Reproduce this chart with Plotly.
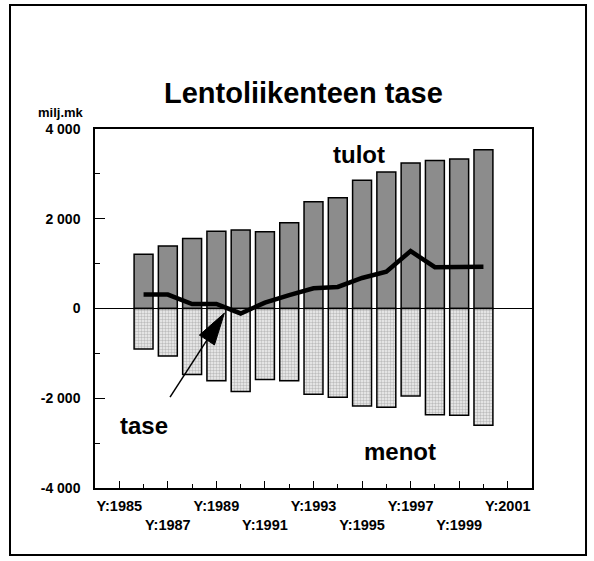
import plotly.graph_objects as go

# Air traffic balance, million FIM
years = [1986, 1987, 1988, 1989, 1990, 1991, 1992, 1993, 1994, 1995,
         1996, 1997, 1998, 1999, 2000]
tulot = [1210, 1390, 1560, 1720, 1750, 1710, 1910, 2380, 2470, 2860,
         3040, 3240, 3300, 3330, 3540]
menot = [-900, -1060, -1470, -1610, -1850, -1580, -1610, -1910, -1980, -2170,
         -2200, -1950, -2370, -2380, -2600]
tase = [310, 310, 100, 100, -110, 130, 300, 450, 480, 680,
        820, 1280, 920, 930, 930]

x_tick_years = [1985, 1987, 1989, 1991, 1993, 1995, 1997, 1999, 2001]
y_tick_vals = [-4000, -2000, 0, 2000, 4000]
y_tick_text = ["-4 000", "-2 000", "0", "2 000", "4 000"]

FONT = "Liberation Sans, Arial, sans-serif"

# alternate rows for the year labels
x_tick_text = [("Y:%d" % y) if i % 2 == 0 else ("<br>Y:%d" % y)
               for i, y in enumerate(x_tick_years)]

fig = go.Figure()
fig.add_trace(go.Bar(
    x=years, y=tulot, width=0.78, name="tulot",
    marker=dict(color="#8c8c8c", line=dict(color="black", width=1.5)),
))
fig.add_trace(go.Bar(
    x=years, y=menot, width=0.78, name="menot",
    marker=dict(color="#dcdcdc", line=dict(color="black", width=1.5),
                pattern=dict(shape=".", size=3, solidity=0.5,
                             fgcolor="#8a8a8a", bgcolor="#f0f0f0")),
))
fig.add_trace(go.Scatter(
    x=years, y=tase, mode="lines", name="tase",
    line=dict(color="black", width=4.5),
))

fig.update_layout(
    width=594, height=561,
    margin=dict(l=95, r=62, t=129, b=73),
    barmode="relative",
    showlegend=False,
    plot_bgcolor="white",
    paper_bgcolor="white",
    font=dict(family=FONT, color="black"),
)

fig.update_xaxes(
    range=[1984, 2002],
    tickmode="array", tickvals=x_tick_years, ticktext=x_tick_text,
    ticks="inside", ticklen=7, tickwidth=1, tickcolor="black",
    minor=dict(tickmode="linear", tick0=1984, dtick=1, ticks="inside",
               ticklen=4, tickwidth=1, tickcolor="black"),
    showline=True, linecolor="black", linewidth=1.5, mirror=True,
    showgrid=False, zeroline=False,
    tickfont=dict(family=FONT, size=14.5, weight="bold"),
    ticklabelstandoff=4,
)
fig.update_yaxes(
    range=[-4000, 4000],
    tickmode="array", tickvals=y_tick_vals, ticktext=y_tick_text,
    ticks="inside", ticklen=10, tickwidth=1, tickcolor="black",
    minor=dict(tickmode="linear", tick0=-4000, dtick=1000, ticks="inside",
               ticklen=5, tickwidth=1, tickcolor="black"),
    showline=True, linecolor="black", linewidth=1.5, mirror=True,
    showgrid=False, zeroline=True, zerolinecolor="black", zerolinewidth=1,
    tickfont=dict(family=FONT, size=14, weight="bold"),
    ticklabelstandoff=10,
)

# outer frame around the whole chart
fig.add_shape(type="rect", xref="paper", yref="paper",
              x0=-0.1945, x1=1.1236, y0=-0.1866, y1=1.3454,
              line=dict(color="black", width=2), fillcolor="rgba(0,0,0,0)",
              layer="above")

# arrow pointing to the balance line
tail = (1987.09, -1976)
tip = (1989.33, -103)
base_c = (1988.61, -703)
corner_a = (1988.92, -812)
corner_b = (1988.30, -593)
fig.add_shape(type="line", xref="x", yref="y",
              x0=tail[0], y0=tail[1], x1=base_c[0], y1=base_c[1],
              line=dict(color="black", width=1.5))
fig.add_shape(type="path", xref="x", yref="y",
              path="M %f,%f L %f,%f L %f,%f Z" % (tip[0], tip[1], corner_a[0],
                                                 corner_a[1], corner_b[0], corner_b[1]),
              fillcolor="black", line=dict(color="black", width=1))

annotations = [
    dict(text="<b>Lentoliikenteen tase</b>", xref="paper", yref="paper",
         x=0.478, y=1.100, font=dict(size=29)),
    dict(text="<b>milj.mk</b>", xref="paper", yref="paper",
         x=-0.078, y=1.0446, font=dict(size=13)),
    dict(text="<b>tulot</b>", xref="x", yref="y", x=1994.87, y=3428,
         font=dict(size=24)),
    dict(text="<b>menot</b>", xref="x", yref="y", x=1996.56, y=-3196,
         font=dict(size=24)),
    dict(text="<b>tase</b>", xref="x", yref="y", x=1986.02, y=-2616,
         font=dict(size=24)),
]
for a in annotations:
    a.update(showarrow=False, xanchor="center", yanchor="middle")
    a["font"].update(family=FONT, color="black")
    fig.add_annotation(**a)

fig.write_html("out.html")
